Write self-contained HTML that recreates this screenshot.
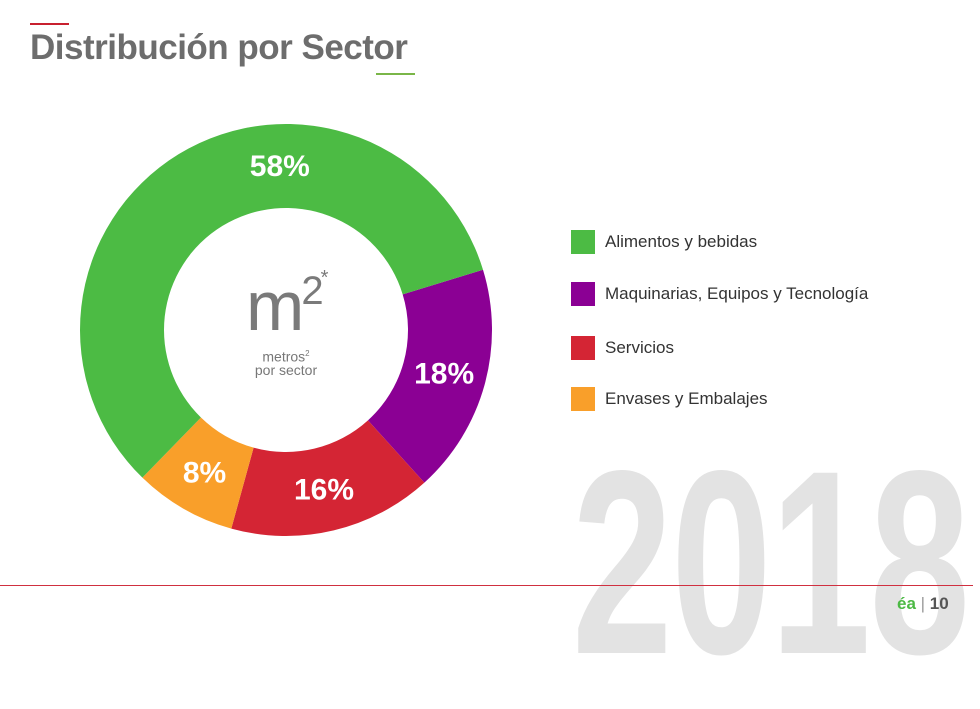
<!DOCTYPE html>
<html><head><meta charset="utf-8"><style>
body{margin:0;width:980px;height:619px;overflow:hidden;background:#fff;font-family:"Liberation Sans",sans-serif;position:relative}
.abs{position:absolute}
.leg{position:absolute;left:571px;height:24px;display:flex;align-items:center}
.leg .sw{width:24px;height:24px;margin-right:10px}
.leg span{font-size:17px;color:#333}
</style></head><body>
<div class="abs" style="left:572px;top:432px;font-size:262px;font-weight:bold;color:#e3e3e3;transform:scaleX(0.69);transform-origin:left top;line-height:1;letter-spacing:-2px">2018</div>
<div class="abs" style="left:30px;top:23px;width:39px;height:2px;background:#c8202f"></div>
<div class="abs" style="left:30px;top:28px;font-size:35px;font-weight:bold;color:#6d6d6d;letter-spacing:-0.5px">Distribución por Sector</div>
<div class="abs" style="left:376px;top:73px;width:39px;height:2px;background:#7ab648"></div>
<div class="abs" style="left:0;top:585px;width:973px;height:1px;background:#d03040;z-index:2"></div>
<div class="abs" style="left:897px;top:594px;font-size:17px;font-weight:bold;color:#4cb944;z-index:2">éa<span style="color:#999;font-weight:normal"> | </span><span style="color:#555">10</span></div>
<svg id="chart" class="abs" style="left:0;top:0" width="980" height="619"></svg>
<div class="abs" style="left:246px;top:268px;font-size:70px;color:#7a7a7a;letter-spacing:-3px;line-height:1">m<span style="font-size:40px;vertical-align:26px">2</span><span style="font-size:20px;vertical-align:46px">*</span></div>
<div class="abs" style="left:236px;top:347px;width:100px;text-align:center;font-size:14px;color:#777;line-height:13px">metros<sup style="font-size:8px">2</sup><br>por sector</div>
<div class="leg" style="top:230px"><div class="sw" style="background:#4cbb44"></div><span>Alimentos y bebidas</span></div>
<div class="leg" style="top:282px"><div class="sw" style="background:#8b0094"></div><span>Maquinarias, Equipos y Tecnología</span></div>
<div class="leg" style="top:336px"><div class="sw" style="background:#d42534"></div><span>Servicios</span></div>
<div class="leg" style="top:387px"><div class="sw" style="background:#f99f2a"></div><span>Envases y Embalajes</span></div>
<script>
const categories=["Maquinarias, Equipos y Tecnología","Servicios","Envases y Embalajes","Alimentos y bebidas"];
const values=[18,16,8,58];
const labels=["18%","16%","8%","58%"];
const colors=["#8b0094","#d42534","#f99f2a","#4cbb44"];
const cx=286,cy=330,R=206,r=122,start=73;
const svg=document.getElementById('chart');
const NS='http://www.w3.org/2000/svg';
const total=values.reduce((a,b)=>a+b,0);
function pt(a,rad){const t=(a-90)*Math.PI/180;return [cx+rad*Math.cos(t),cy+rad*Math.sin(t)];}
let a=start;
values.forEach((v,i)=>{
  const sweep=v/total*360,a2=a+sweep,large=sweep>180?1:0;
  const p1=pt(a,R),p2=pt(a2,R),p3=pt(a2,r),p4=pt(a,r);
  const path=document.createElementNS(NS,'path');
  path.setAttribute('d',`M${p1[0]},${p1[1]}A${R},${R} 0 ${large} 1 ${p2[0]},${p2[1]}L${p3[0]},${p3[1]}A${r},${r} 0 ${large} 0 ${p4[0]},${p4[1]}Z`);
  path.setAttribute('fill',colors[i]);
  
  
  svg.appendChild(path);
  const frac=sweep>180?0.64:0.5;
  const m=pt(a+sweep*frac,(R+r)/2);
  const t=document.createElementNS(NS,'text');
  t.setAttribute('x',m[0]);t.setAttribute('y',m[1]+10);
  t.setAttribute('text-anchor','middle');t.setAttribute('fill','#fff');
  t.setAttribute('font-size','30');t.setAttribute('font-weight','bold');
  t.setAttribute('font-family','Liberation Sans, sans-serif');
  t.textContent=labels[i];
  
  
  svg.appendChild(t);
  a=a2;
});
</script>
</body></html>
